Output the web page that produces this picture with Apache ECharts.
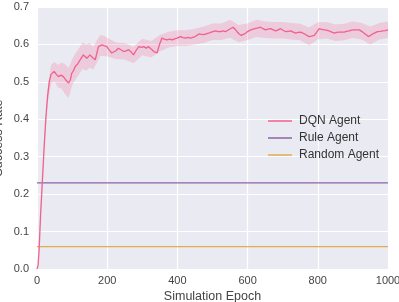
<!DOCTYPE html>
<html>
<head>
<meta charset="utf-8">
<script src="https://cdn.jsdelivr.net/npm/echarts@6/dist/echarts.min.js"></script>
<style>
  html, body { margin: 0; padding: 0; background: #ffffff; }
  #chart { width: 399px; height: 302px; }
</style>
</head>
<body>
<div id="chart"></div>
<script>
// DQN mean curve (epoch, success rate)
const dqnEpochs = [0, 3, 6, 10, 15, 20, 25, 30, 35, 40, 49, 55, 61, 68, 75, 82, 90, 95, 99, 104, 109, 116, 123, 132, 137, 142, 151, 158, 166, 175, 185, 192, 199, 206, 213, 218, 225, 232, 240, 247, 254, 261, 268, 275, 283, 290, 297, 304, 311, 318, 326, 333, 342, 349, 356, 363, 370, 378, 385, 392, 399, 409, 416, 423, 430, 437, 444, 451, 461, 468, 475, 480, 489, 494, 501, 509, 516, 523, 530, 537, 547, 559, 565, 570, 576, 582, 588, 594, 601, 609, 616, 623, 630, 637, 644, 651, 658, 666, 673, 680, 687, 694, 701, 709, 716, 723, 730, 737, 744, 751, 758, 766, 775, 782, 790, 797, 804, 811, 818, 825, 832, 840, 847, 854, 861, 868, 875, 882, 889, 896, 904, 911, 918, 925, 932, 938, 944, 950, 956, 963, 970, 978, 985, 992, 1000]
const dqnMean = [0.0, 0.01, 0.05, 0.14, 0.23, 0.32, 0.40, 0.46, 0.50, 0.52, 0.528, 0.52, 0.514, 0.518, 0.514, 0.505, 0.497, 0.505, 0.523, 0.53, 0.541, 0.548, 0.559, 0.572, 0.568, 0.563, 0.572, 0.565, 0.559, 0.594, 0.599, 0.596, 0.594, 0.585, 0.577, 0.572, 0.583, 0.590, 0.585, 0.581, 0.583, 0.586, 0.58, 0.572, 0.585, 0.594, 0.592, 0.594, 0.59, 0.594, 0.587, 0.581, 0.577, 0.60, 0.617, 0.614, 0.612, 0.614, 0.612, 0.615, 0.617, 0.621, 0.618, 0.617, 0.619, 0.617, 0.619, 0.621, 0.628, 0.627, 0.626, 0.626, 0.630, 0.634, 0.634, 0.636, 0.634, 0.634, 0.636, 0.634, 0.640, 0.646, 0.64, 0.634, 0.628, 0.624, 0.627, 0.630, 0.635, 0.639, 0.641, 0.643, 0.644, 0.646, 0.642, 0.639, 0.641, 0.642, 0.639, 0.636, 0.639, 0.642, 0.638, 0.634, 0.635, 0.636, 0.633, 0.630, 0.632, 0.633, 0.63, 0.626, 0.621, 0.622, 0.624, 0.633, 0.642, 0.64, 0.639, 0.638, 0.636, 0.633, 0.630, 0.632, 0.633, 0.633, 0.633, 0.635, 0.636, 0.638, 0.639, 0.639, 0.639, 0.635, 0.630, 0.626, 0.621, 0.624, 0.628, 0.631, 0.634, 0.635, 0.636, 0.637, 0.639]

// 置信区间 (band)
const bandEpochs = [0, 10, 20, 30, 40, 50, 60, 70, 80, 90, 100, 110, 120, 130, 140, 150, 160, 170, 180, 190, 200, 225, 250, 275, 300, 325, 350, 375, 400, 425, 450, 475, 500, 525, 550, 575, 600, 625, 650, 675, 700, 725, 750, 775, 800, 825, 850, 875, 900, 925, 950, 975, 1000]
const bandLow = [0.0, 0.13, 0.305, 0.44, 0.495, 0.50, 0.485, 0.482, 0.467, 0.457, 0.49, 0.507, 0.52, 0.535, 0.53, 0.538, 0.533, 0.55, 0.569, 0.569, 0.568, 0.561, 0.56, 0.55, 0.571, 0.565, 0.581, 0.592, 0.596, 0.596, 0.600, 0.604, 0.612, 0.612, 0.618, 0.606, 0.612, 0.62, 0.617, 0.616, 0.616, 0.613, 0.611, 0.597, 0.613, 0.616, 0.609, 0.611, 0.617, 0.613, 0.600, 0.613, 0.617]
const bandHigh = [0.0, 0.15, 0.335, 0.48, 0.545, 0.554, 0.545, 0.552, 0.547, 0.537, 0.56, 0.577, 0.59, 0.605, 0.60, 0.604, 0.593, 0.61, 0.625, 0.623, 0.618, 0.605, 0.604, 0.594, 0.615, 0.609, 0.625, 0.634, 0.638, 0.638, 0.642, 0.648, 0.656, 0.656, 0.666, 0.652, 0.656, 0.666, 0.661, 0.66, 0.66, 0.657, 0.655, 0.645, 0.659, 0.66, 0.653, 0.655, 0.661, 0.657, 0.648, 0.657, 0.661]

// baselines
const ruleRate = 0.23
const randomRate = 0.06
const epochRange = [0, 1000]

const yTicks = [0, 0.1, 0.2, 0.3, 0.4, 0.5, 0.6, 0.7]

const dqnColor = '#f2608c'
const ruleColor = '#8c62a8'
const randomColor = '#e2ac52'
const font = 'Liberation Sans, Arial, sans-serif'

const myChart = echarts.init(document.getElementById('chart'))

const meanData = dqnEpochs.map((e, i) => [e, dqnMean[i]])

// 区间多边形：上沿正向 + 下沿反向
const renderBand = (params, api) => {
  const pts = []
  for (let i = 0; i < bandEpochs.length; i++) {
    pts.push(api.coord([bandEpochs[i], bandHigh[i]]))
  }
  for (let i = bandEpochs.length - 1; i >= 0; i--) {
    pts.push(api.coord([bandEpochs[i], bandLow[i]]))
  }
  return {
    type: 'polygon',
    shape: { points: pts },
    style: { fill: 'rgba(242, 96, 140, 0.22)' }
  }
}

const options = {
  animation: false,
  textStyle: { fontFamily: font },
  grid: {
    left: 37,
    right: 11,
    top: 7,
    bottom: 33,
    containLabel: false,
    outerBoundsMode: 'none',
    show: true,
    backgroundColor: '#eaeaf2',
    borderWidth: 0
  },
  legend: {
    orient: 'vertical',
    left: 263,
    top: 110,
    icon: 'rect',
    itemWidth: 24,
    itemHeight: 1.5,
    itemGap: 5,
    data: ['DQN Agent', 'Rule Agent', 'Random Agent'],
    textStyle: { color: '#333', fontSize: 12, fontFamily: font, padding: [0, 0, 0, 2] }
  },
  xAxis: {
    type: 'value',
    min: 0,
    max: 1000,
    interval: 200,
    name: 'Simulation Epoch',
    nameLocation: 'middle',
    nameGap: 21,
    nameMoveOverlap: false,
    nameTextStyle: { color: '#444', fontSize: 12.5, fontFamily: font },
    axisLine: { show: false },
    axisTick: { show: false },
    axisLabel: { color: '#444', fontSize: 11, margin: 6, fontFamily: font, formatter: (v) => String(v) },
    splitLine: { show: true, lineStyle: { color: '#ffffff', width: 1.2 } }
  },
  yAxis: {
    type: 'value',
    min: yTicks[0],
    max: yTicks[yTicks.length - 1],
    interval: 0.1,
    name: 'Success Rate',
    nameLocation: 'middle',
    nameGap: 32,
    nameMoveOverlap: false,
    nameTextStyle: { color: '#444', fontSize: 12.5, fontFamily: font },
    axisLine: { show: false },
    axisTick: { show: false },
    axisLabel: { color: '#444', fontSize: 11, margin: 8, fontFamily: font, formatter: (v) => v.toFixed(1) },
    splitLine: { show: true, lineStyle: { color: '#ffffff', width: 1.2 } }
  },
  series: [
    {
      name: 'band',
      type: 'custom',
      renderItem: renderBand,
      data: [0],
      silent: true,
      z: 1
    },
    {
      name: 'Rule Agent',
      type: 'line',
      data: epochRange.map(e => [e, ruleRate]),
      symbol: 'none',
      itemStyle: { color: ruleColor },
      lineStyle: { color: ruleColor, width: 1.3 },
      z: 2
    },
    {
      name: 'Random Agent',
      type: 'line',
      data: epochRange.map(e => [e, randomRate]),
      symbol: 'none',
      itemStyle: { color: randomColor },
      lineStyle: { color: randomColor, width: 1.3 },
      z: 2
    },
    {
      name: 'DQN Agent',
      type: 'line',
      data: meanData,
      symbol: 'none',
      itemStyle: { color: dqnColor },
      lineStyle: { color: dqnColor, width: 1.3 },
      z: 3
    }
  ]
}
myChart.setOption(options)
</script>
</body>
</html>
